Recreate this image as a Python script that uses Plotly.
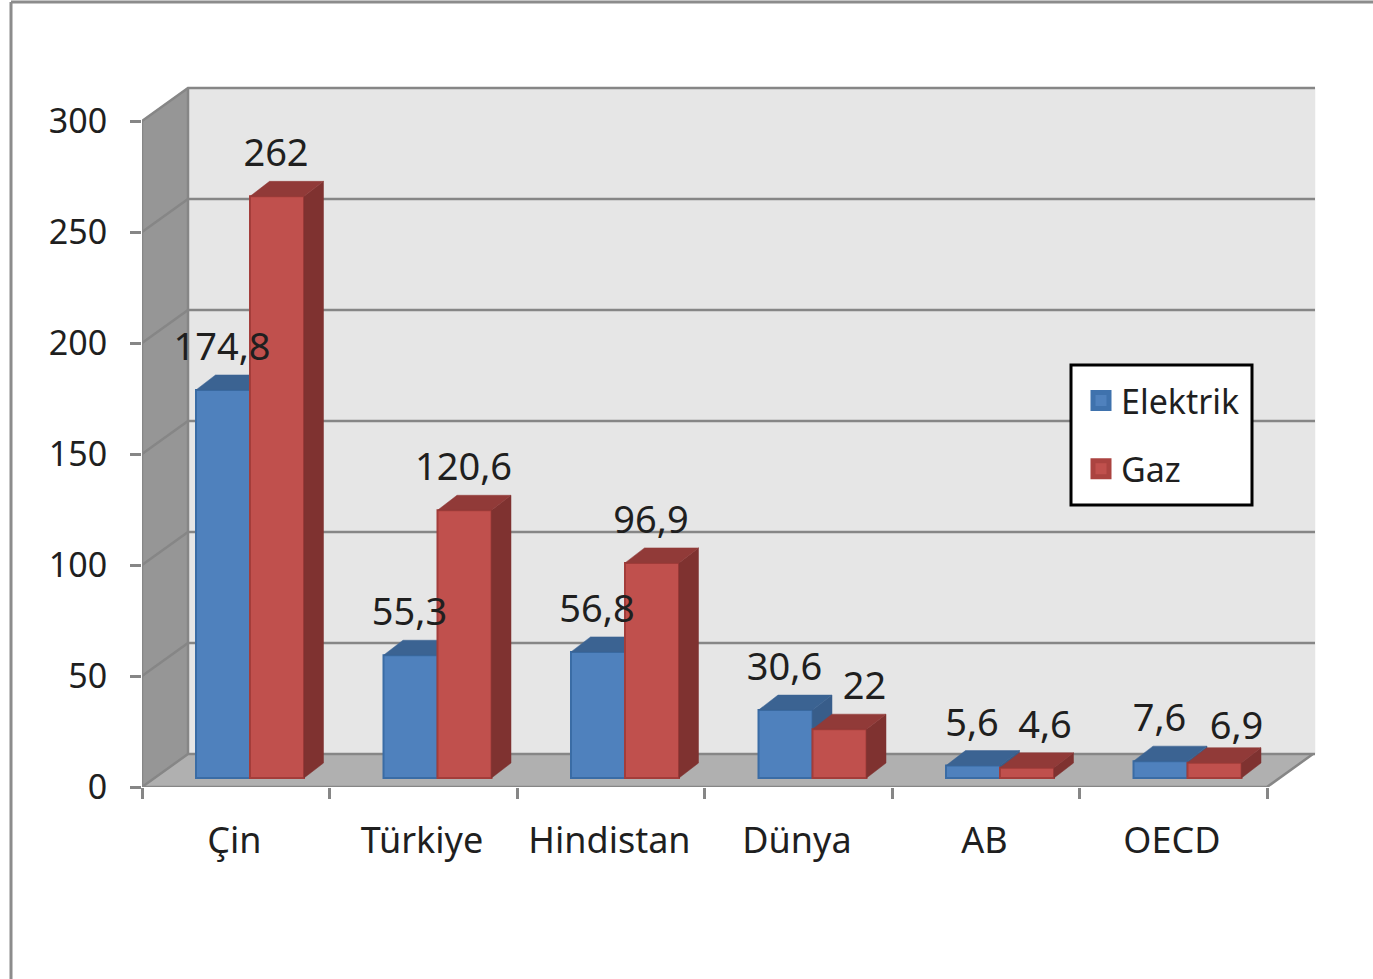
import plotly.graph_objects as go

categories = ["Çin", "Türkiye", "Hindistan", "Dünya", "AB", "OECD"]
elektrik = [174.8, 55.3, 56.8, 30.6, 5.6, 7.6]
gaz = [262, 120.6, 96.9, 22, 4.6, 6.9]
elektrik_text = ["174,8", "55,3", "56,8", "30,6", "5,6", "7,6"]
gaz_text = ["262", "120,6", "96,9", "22", "4,6", "6,9"]
y_ticks = [0, 50, 100, 150, 200, 250, 300]

# Geometry (pixels of the 1373x979 frame)
W, H = 1373, 979
L, R, T, B = 142, 1320, 80, 787
PX_X = 187.5   # px per category
PX_Y = 2.22    # px per value unit
X_MAX = (R - L) / PX_X
Y_MAX = (B - T) / PX_Y
N = len(categories)
WALL_DX, WALL_DY = 46 / PX_X, 33 / PX_Y
BAR_DX, BAR_DY = 19.5 / PX_X, 15 / PX_Y
BASE = 9 / PX_Y
BAR_W = 54 / PX_X
BAR_START = 54 / PX_X
LABEL_UP = 39.5 / PX_Y
LABEL_LEFT = 1 / PX_X
gaz_nudge_x = [0, 0, 0, 26 / PX_X, 19 / PX_X, 23 / PX_X]
gaz_nudge_y = [0, 0, 0, 0, 0, -6 / PX_Y]
WALL_END = N + (1315 - 1267) / PX_X

FONT = "'Noto Sans', sans-serif"
TXT = "#1f1f1f"
GRID = "#868686"


def px_x(p):
    return (p - L) / (R - L)


def px_y(p):
    return (B - p) / (B - T)


fig = go.Figure()


def poly(xs, ys, fill, axes=("x", "y"), line=None, lw=0):
    fig.add_trace(go.Scatter(
        x=xs, y=ys, mode="lines", fill="toself", fillcolor=fill,
        line=dict(color=line or fill, width=lw if lw else 0.5),
        xaxis=axes[0], yaxis=axes[1], showlegend=False, hoverinfo="skip",
        cliponaxis=False))


# Walls and floor
poly([WALL_DX, WALL_END, WALL_END, WALL_DX],
     [WALL_DY, WALL_DY, 300 + WALL_DY, 300 + WALL_DY], "#e6e6e6")
poly([0, WALL_DX, WALL_DX, 0], [0, WALL_DY, 300 + WALL_DY, 300], "#969696")
poly([0, WALL_DX, N + WALL_DX, N], [0, WALL_DY, WALL_DY, 0], "#b0b0b0")

# Grid lines: left wall diagonal + back wall
gx, gy = [], []
for v in y_ticks:
    gx += [0, WALL_DX, WALL_END, None]
    gy += [v, v + WALL_DY, v + WALL_DY, None]
fig.add_trace(go.Scatter(x=gx, y=gy, mode="lines", line=dict(color=GRID, width=2.5),
                         showlegend=False, hoverinfo="skip", cliponaxis=False))
# Axis lines and wall edges
fig.add_trace(go.Scatter(
    x=[0, 0, None, 0, N, N + WALL_DX, None, WALL_DX, WALL_DX],
    y=[0, 300, None, 0, 0, WALL_DY, None, WALL_DY, 300 + WALL_DY],
    mode="lines", line=dict(color=GRID, width=2.5), showlegend=False,
    hoverinfo="skip", cliponaxis=False))

# Legend entries
fig.add_trace(go.Scatter(x=[None], y=[None], mode="markers", name="Elektrik",
                         legendgroup="e",
                         marker=dict(symbol="square", size=16, color="#4f81bd",
                                     line=dict(color="#3f72ad", width=5))))
fig.add_trace(go.Scatter(x=[None], y=[None], mode="markers", name="Gaz",
                         legendgroup="g",
                         marker=dict(symbol="square", size=16, color="#c0504d",
                                     line=dict(color="#ab4340", width=5))))


def series(values, start, front, edge, top, side, axes):
    xs = [i + 0.288 + start for i in range(N)]
    fig.add_trace(go.Bar(
        x=xs, y=values, base=[BASE] * N, width=[BAR_W] * N, offset=0,
        marker=dict(color=front, line=dict(color=edge, width=2)),
        xaxis=axes[0], yaxis=axes[1], showlegend=False, hoverinfo="skip"))
    sx, sy, tx, ty = [], [], [], []
    for x0, v in zip(xs, values):
        x1 = x0 + BAR_W
        h = v + BASE
        sx += [x1, x1 + BAR_DX, x1 + BAR_DX, x1, x1, None]
        sy += [BASE, BASE + BAR_DY, h + BAR_DY, h, BASE, None]
        tx += [x0, x1, x1 + BAR_DX, x0 + BAR_DX, x0, None]
        ty += [h, h, h + BAR_DY, h + BAR_DY, h, None]
    poly(sx, sy, side, axes)
    poly(tx, ty, top, axes)
    return xs


series(elektrik, 0, "#4f81bd", "#3a6ca5", "#3b6392", "#385d8a", ("x2", "y2"))
series(gaz, BAR_START, "#c0504d", "#a33d3a", "#913a38", "#7f3230", ("x3", "y3"))

# Data labels (on the top layer)
fig.add_trace(go.Scatter(
    x=[i + 0.288 + BAR_W / 2 - LABEL_LEFT for i in range(N)],
    y=[v + BASE + LABEL_UP for v in elektrik],
    text=elektrik_text, mode="text", textposition="middle center",
    textfont=dict(family=FONT, size=38, color=TXT),
    xaxis="x3", yaxis="y3", showlegend=False, hoverinfo="skip", cliponaxis=False))
fig.add_trace(go.Scatter(
    x=[i + 0.288 + BAR_START + BAR_W / 2 + d - LABEL_LEFT for i, d in zip(range(N), gaz_nudge_x)],
    y=[v + BASE + LABEL_UP + d for v, d in zip(gaz, gaz_nudge_y)],
    text=gaz_text, mode="text", textposition="middle center",
    textfont=dict(family=FONT, size=38, color=TXT),
    xaxis="x3", yaxis="y3", showlegend=False, hoverinfo="skip", cliponaxis=False))

hidden = dict(range=[0, X_MAX], visible=False, fixedrange=True)
hiddeny = dict(range=[0, Y_MAX], visible=False, fixedrange=True)

fig.update_layout(
    width=W, height=H,
    margin=dict(l=L, r=W - R, t=T, b=H - B, pad=0),
    paper_bgcolor="white", plot_bgcolor="rgba(0,0,0,0)",
    barmode="overlay", font=dict(family=FONT, color=TXT, size=35),
    xaxis=dict(range=[0, X_MAX], tickmode="array",
               tickvals=[i + 0.493 for i in range(N)], ticktext=categories,
               ticks="", ticklabelstandoff=29, showgrid=False, zeroline=False,
               showline=False, tickfont=dict(family=FONT, size=36, color=TXT),
               minor=dict(ticks="outside", ticklen=11, tickwidth=2.5,
                          tickcolor=GRID, tick0=0, dtick=1, showgrid=False),
               fixedrange=True),
    yaxis=dict(range=[0, Y_MAX], tickmode="array", tickvals=y_ticks,
               ticks="outside", ticklen=11, tickwidth=2.5, tickcolor=GRID,
               ticklabelstandoff=16, showgrid=False, zeroline=False, showline=False,
               tickfont=dict(family=FONT, size=34, color=TXT), fixedrange=True),
    xaxis2=dict(hidden, overlaying="x"), yaxis2=dict(hiddeny, overlaying="y"),
    xaxis3=dict(hidden, overlaying="x"), yaxis3=dict(hiddeny, overlaying="y"),
    legend=dict(x=px_x(1078), y=px_y(369),
                xanchor="left", yanchor="top", bgcolor="rgba(0,0,0,0)",
                bordercolor="rgba(0,0,0,0)", borderwidth=3,
                font=dict(family=FONT, size=34, color=TXT), itemwidth=30,
                tracegroupgap=21, itemclick=False, itemdoubleclick=False),
    shapes=[
        dict(type="line", xref="paper", yref="paper",
             x0=px_x(11), x1=px_x(W), y0=px_y(2), y1=px_y(2),
             line=dict(color="#8c8c8c", width=3)),
        dict(type="line", xref="paper", yref="paper",
             x0=px_x(11), x1=px_x(11), y0=px_y(2), y1=px_y(H),
             line=dict(color="#8c8c8c", width=3)),
        dict(type="rect", xref="paper", yref="paper",
             x0=px_x(1071), x1=px_x(1252), y0=px_y(365), y1=px_y(505),
             fillcolor="white", line=dict(color="black", width=3), layer="above"),
    ],
)

fig.write_html("out.html", config={"displayModeBar": False},
               post_script="document.body.style.margin='0';")
